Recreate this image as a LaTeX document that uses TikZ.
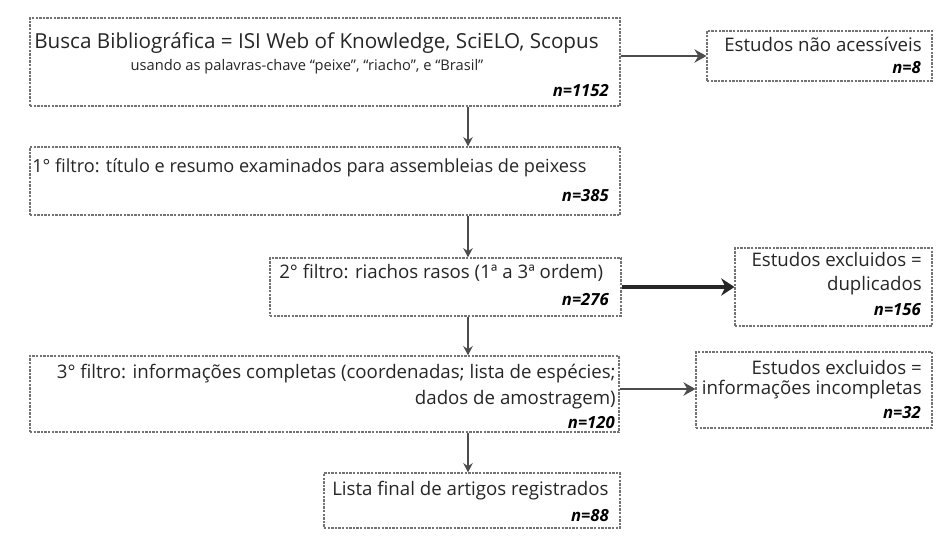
\documentclass[tikz,border=0pt]{standalone}
\usepackage{fontspec}
\setmainfont{Open Sans}
\usetikzlibrary{arrows.meta,fit}
\begin{document}
\begin{tikzpicture}[x=0.75pt,y=-0.75pt,
 box/.style={draw=black!55, dash pattern=on 1.8pt off 0.9pt, line width=0.8pt, inner sep=0pt},
 big/.style={inner sep=0pt, font=\fontsize{15.5}{17}\selectfont, text=black!85},
 txt/.style={inner sep=0pt, font=\fontsize{14}{16}\selectfont, text=black!85},
 small/.style={inner sep=0pt, font=\fontsize{11}{13}\selectfont, text=black!85},
 num/.style={inner sep=0pt, font=\fontsize{12.5}{14}\selectfont\bfseries\itshape, text=black},
 arr/.style={draw=black!70, line width=1.7pt, -{Stealth[length=7pt,width=7pt]}},
 arrh/.style={draw=black!70, line width=1.7pt, -{Stealth[length=9pt,width=10pt]}},
 arrthick/.style={draw=black!85, line width=3pt, -{Stealth[length=10pt,width=13pt]}},
 ]
\useasboundingbox (0,0) rectangle (950,538);
\fill[white] (0,0) rectangle (950,538);
% boxes
\node[box, fit={(30,18) (620,106)}] (b1) {};
\node[box, fit={(707,31) (932,81)}] (b1r) {};
\node[box, fit={(30,147) (620,215)}] (b2) {};
\node[box, fit={(270,258) (621,316)}] (b3) {};
\node[box, fit={(735,248) (932,326)}] (b3r) {};
\node[box, fit={(30,356) (619,432)}] (b4) {};
\node[box, fit={(696,352) (932,428)}] (b4r) {};
\node[box, fit={(324,473) (620,528)}] (b5) {};
% texts
\node[big, anchor=west] (t1a) at (34,43) {Busca Bibliográfica = ISI Web of Knowledge, SciELO, Scopus};
\node[small] (t1b) at (307,67) {usando as palavras-chave “peixe”, “riacho”, e “Brasil”};
\node[num, anchor=east] (n1) at (609,91) {n=1152};
\node[txt, anchor=east] (t1r) at (922,44) {Estudos não acessíveis};
\node[num, anchor=east] (n1r) at (921,68) {n=8};
\node[txt, anchor=west, font=\fontsize{13.6}{16}\selectfont] (t2) at (32,168) {1° filtro: título e resumo examinados para assembleias de peixess};
\node[num, anchor=east] (n2) at (609,196) {n=385};
\node[txt, anchor=west] (t3) at (279,273) {2° filtro: riachos rasos (1ª a 3ª ordem)};
\node[num, anchor=east] (n3) at (609,300) {n=276};
\node[txt, anchor=east] (t3ra) at (922,260) {Estudos excluidos =};
\node[txt, anchor=east] (t3rb) at (922,286) {duplicados};
\node[num, anchor=east] (n3r) at (921,310) {n=156};
\node[txt, anchor=east] (t4a) at (616,374) {3° filtro: informações completas (coordenadas; lista de espécies;};
\node[txt, anchor=east] (t4b) at (616,400) {dados de amostragem)};
\node[num, anchor=east] (n4) at (615,423) {n=120};
\node[txt, anchor=east] (t4ra) at (922,367) {Estudos excluidos =};
\node[txt, anchor=east] (t4rb) at (922,390) {informações incompletas};
\node[num, anchor=east] (n4r) at (921,413) {n=32};
\node[txt, anchor=west] (t5) at (332,491) {Lista final de artigos registrados};
\node[num, anchor=east] (n5) at (609,516) {n=88};
% connectors
\coordinate (vx) at (468,0);
\coordinate (y1) at (0,56);
\coordinate (y3) at (0,287);
\coordinate (y4) at (0,389);
\draw[arr] (b1.south -| vx) -- (b2.north -| vx);
\draw[arr] (b2.south -| vx) -- (b3.north -| vx);
\draw[arr] (b3.south -| vx) -- (b4.north -| vx);
\draw[arr] (b4.south -| vx) -- (b5.north -| vx);
\draw[arrh] (b1.east |- y1) -- (b1r.west |- y1);
\draw[arrthick] (b3.east |- y3) -- (b3r.west |- y3);
\draw[arrh] (b4.east |- y4) -- (b4r.west |- y4);
\end{tikzpicture}
\end{document}
